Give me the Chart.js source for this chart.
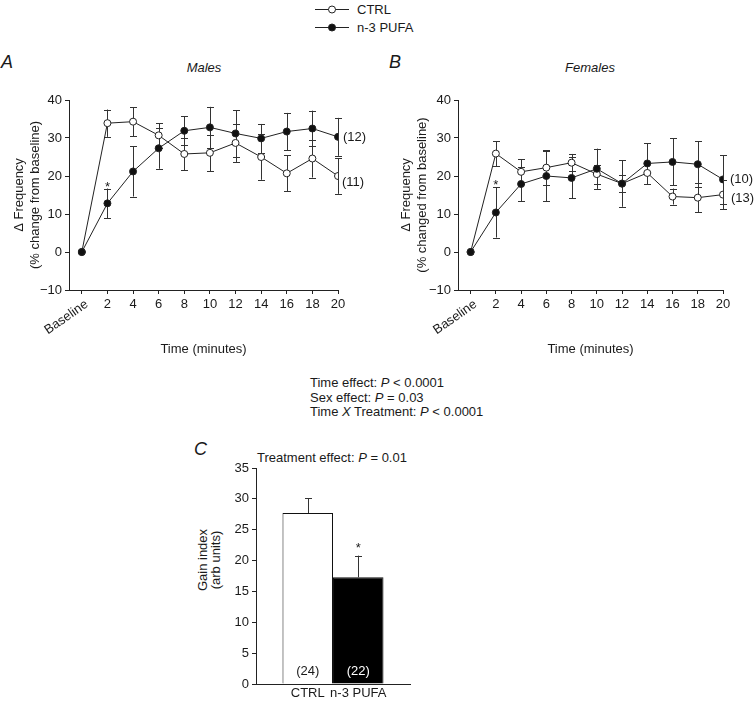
<!DOCTYPE html>
<html>
<head>
<meta charset="utf-8">
<script src="https://cdn.jsdelivr.net/npm/chart.js@4.4.0/dist/chart.umd.min.js"></script>
<style>
  body { margin: 0; background: #fff; font-family: "Liberation Sans", Arial, sans-serif; color: #1a1a1a; }
  #wrap { position: relative; width: 755px; height: 702px; overflow: hidden; }
  canvas { position: absolute; }
  .t { position: absolute; font-size: 13px; line-height: 1; white-space: nowrap; }
  .letter { position: absolute; font-size: 18px; font-style: italic; line-height: 1; }
  .ttl { position: absolute; font-size: 13px; font-style: italic; line-height: 1; transform: translateX(-50%); }
  .rot { position: absolute; font-size: 13px; line-height: 13px; text-align: center; white-space: nowrap;
         transform: translate(-50%, -50%) rotate(-90deg); }
</style>
</head>
<body>
<div id="wrap">
  <!-- shared legend -->
  <svg style="position:absolute;left:312px;top:0" width="42" height="36">
    <line x1="3" y1="9.5" x2="37" y2="9.5" stroke="#222" stroke-width="1"/>
    <circle cx="20" cy="9.5" r="3.5" fill="#fff" stroke="#222" stroke-width="1"/>
    <line x1="3" y1="27.5" x2="37" y2="27.5" stroke="#222" stroke-width="1"/>
    <circle cx="20" cy="27.5" r="3.5" fill="#111" stroke="#222" stroke-width="1"/>
  </svg>
  <div class="t" style="left:357px;top:3px">CTRL</div>
  <div class="t" style="left:357px;top:21px">n-3 PUFA</div>

  <div class="letter" style="left:1px;top:53px">A</div>
  <div class="ttl" style="left:204px;top:61px">Males</div>
  <div class="letter" style="left:389px;top:53px">B</div>
  <div class="ttl" style="left:590px;top:61px">Females</div>

  <canvas id="chartA" width="380" height="277" style="left:0;top:80px"></canvas>
  <canvas id="chartB" width="365" height="277" style="left:390px;top:80px"></canvas>

  <div class="t" style="left:310px;top:376px;line-height:14.5px">
    Time effect: <i>P</i> &lt; 0.0001<br>
    Sex effect: <i>P</i> = 0.03<br>
    Time <i>X</i> Treatment: <i>P</i> &lt; 0.0001
  </div>

  <div class="letter" style="left:194px;top:440px">C</div>
  <div class="t" style="left:257px;top:451px">Treatment effect: <i>P</i> = 0.01</div>
  <div class="rot" style="left:209px;top:560px">Gain index<br>(arb units)</div>
  <canvas id="chartC" width="250" height="262" style="left:180px;top:440px"></canvas>
</div>

<script>
// ---- data ----
var timeLabels = ['Baseline', '2', '4', '6', '8', '10', '12', '14', '16', '18', '20'];

// Males (panel A)
var malesCtrl     = [0, 33.9, 34.3, 30.7, 25.8, 26.1, 28.7, 25.0, 20.7, 24.6, 20.0];
var malesCtrlErr  = [0, 3.6, 3.8, 3.2, 4.3, 4.8, 5.0, 6.0, 4.7, 5.0, 4.7];
var malesPufa     = [0, 12.8, 21.2, 27.3, 31.9, 32.8, 31.2, 29.9, 31.7, 32.5, 30.3];
var malesPufaErr  = [0, 3.9, 6.6, 5.4, 3.8, 5.4, 6.1, 3.8, 4.9, 4.7, 5.0];
var malesN        = [11, 12];   // CTRL, n-3 PUFA
var malesSig      = [1];        // * on n-3 PUFA at 2 min

// Females (panel B)
var femalesCtrl    = [0, 25.9, 21.1, 22.2, 23.5, 20.5, 18.0, 20.8, 14.6, 14.3, 15.1];
var femalesCtrlErr = [0, 3.3, 3.3, 4.6, 2.3, 2.5, 2.3, 2.9, 2.1, 3.8, 3.9];
var femalesPufa    = [0, 10.4, 17.9, 20.0, 19.5, 21.9, 18.0, 23.3, 23.7, 23.1, 19.1];
var femalesPufaErr = [0, 6.6, 4.5, 6.7, 5.4, 5.3, 6.1, 5.3, 6.2, 6.0, 6.4];
var femalesN       = [13, 10];
var femalesSig     = [1];

// Gain index (panel C)
var gainGroups = ['CTRL', 'n-3 PUFA'];
var gainValues = [27.7, 17.3];
var gainErr    = [2.4, 3.5];
var gainN      = [24, 22];
var gainSig    = [false, true];

var yTicksFreq = [-10, 0, 10, 20, 30, 40];

Chart.defaults.font.family = '"Liberation Sans", Arial, sans-serif';
Chart.defaults.font.size = 13;
Chart.defaults.color = '#1a1a1a';
Chart.defaults.animation = false;

var ink = '#222';

function toPoints(arr) {
    return arr.map(function (v, i) { return { x: i, y: v }; });
}

function valueOf(d) {
    return (typeof d === 'object') ? d.y : d;
}

// vertical SEM bars with caps
var errorBars = {
    id: 'errorBars',
    beforeDatasetsDraw: function (chart) {
        var ctx = chart.ctx, ys = chart.scales.y;
        ctx.save();
        ctx.strokeStyle = '#333';
        ctx.lineWidth = 1;
        chart.data.datasets.forEach(function (ds, i) {
            if (!ds.errors) return;
            var meta = chart.getDatasetMeta(i);
            meta.data.forEach(function (el, j) {
                var e = ds.errors[j];
                if (!e) return;
                var v = valueOf(ds.data[j]);
                var top = ys.getPixelForValue(v + e);
                var bot = ds.upOnly ? ys.getPixelForValue(v) : ys.getPixelForValue(v - e);
                var x = Math.round(el.x) + 0.5;
                ctx.beginPath();
                ctx.moveTo(x, top); ctx.lineTo(x, bot);
                ctx.moveTo(x - 3.5, Math.round(top) + 0.5); ctx.lineTo(x + 3.5, Math.round(top) + 0.5);
                if (!ds.upOnly) {
                    ctx.moveTo(x - 3.5, Math.round(bot) + 0.5); ctx.lineTo(x + 3.5, Math.round(bot) + 0.5);
                }
                ctx.stroke();
            });
        });
        ctx.restore();
    }
};

// group sizes, significance stars, rotated "Baseline" label
var annotations = {
    id: 'annotations',
    afterDatasetsDraw: function (chart, args, opts) {
        var ctx = chart.ctx, ys = chart.scales.y;
        ctx.save();
        ctx.font = '13px "Liberation Sans", Arial, sans-serif';
        ctx.fillStyle = '#1a1a1a';
        chart.data.datasets.forEach(function (ds, i) {
            var meta = chart.getDatasetMeta(i);
            if (ds.n && ds.nAt === 'end') {
                var last = meta.data[meta.data.length - 1];
                ctx.textAlign = 'left';
                ctx.textBaseline = 'middle';
                ctx.fillText('(' + ds.n + ')', last.x + ds.nDx, last.y + ds.nDy);
            }
            (ds.sig || []).forEach(function (j) {
                var el = meta.data[j];
                var top = ys.getPixelForValue(valueOf(ds.data[j]) + ds.errors[j]);
                ctx.textAlign = 'center';
                ctx.textBaseline = 'alphabetic';
                ctx.fillText('*', el.x, top + opts.starDy);
            });
        });
        if (opts.baseline) {
            var xs = chart.scales.x;
            ctx.save();
            ctx.translate(xs.getPixelForValue(0) + 5, xs.top + 13);
            ctx.rotate(-35 * Math.PI / 180);
            ctx.textAlign = 'right';
            ctx.textBaseline = 'middle';
            ctx.fillText(opts.baseline, 0, 0);
            ctx.restore();
        }
        ctx.restore();
    }
};

function freqChart(id, ctrl, ctrlErr, pufa, pufaErr, nArr, sig, yTitle, titlePad, yWidth, padRight, nOffsets) {
    return new Chart(document.getElementById(id), {
        type: 'line',
        data: {
            datasets: [
                {
                    label: 'CTRL',
                    data: toPoints(ctrl),
                    errors: ctrlErr,
                    n: nArr[0], nAt: 'end', nDx: nOffsets[0][0], nDy: nOffsets[0][1],
                    borderColor: ink, borderWidth: 1,
                    pointRadius: 3.5, pointBorderWidth: 1,
                    pointBackgroundColor: '#fff', pointBorderColor: ink,
                    order: 1
                },
                {
                    label: 'n-3 PUFA',
                    data: toPoints(pufa),
                    errors: pufaErr,
                    sig: sig,
                    n: nArr[1], nAt: 'end', nDx: nOffsets[1][0], nDy: nOffsets[1][1],
                    borderColor: ink, borderWidth: 1,
                    pointRadius: 3.5, pointBorderWidth: 1,
                    pointBackgroundColor: '#111', pointBorderColor: ink,
                    order: 0
                }
            ]
        },
        options: {
            responsive: false,
            devicePixelRatio: 1,
            layout: { padding: { top: 20, right: padRight, bottom: 0, left: 0 } },
            plugins: {
                legend: { display: false },
                tooltip: { enabled: false },
                annotations: { starDy: 2, baseline: timeLabels[0] }
            },
            scales: {
                x: {
                    type: 'linear',
                    min: -0.5, max: timeLabels.length - 1,
                    afterBuildTicks: function (s) {
                        s.ticks = timeLabels.map(function (_, i) { return { value: i }; });
                    },
                    afterFit: function (s) { s.height = 67; },
                    ticks: {
                        autoSkip: false, maxRotation: 0, padding: 3,
                        callback: function (v) { return v === 0 ? '' : timeLabels[v]; }
                    },
                    grid: { drawOnChartArea: false, drawTicks: true, tickLength: 4, tickColor: ink },
                    border: { color: ink, width: 1 },
                    title: { display: true, text: 'Time (minutes)', padding: 0, font: { size: 13 } }
                },
                y: {
                    min: -10, max: 40,
                    afterBuildTicks: function (s) {
                        s.ticks = yTicksFreq.map(function (v) { return { value: v }; });
                    },
                    afterFit: function (s) { s.width = yWidth; },
                    ticks: {
                        padding: 3,
                        callback: function (v) { return v < 0 ? '\u2212' + (-v) : v; }
                    },
                    grid: { drawOnChartArea: false, drawTicks: true, tickLength: 4, tickColor: ink },
                    border: { color: ink, width: 1 },
                    title: { display: true, text: yTitle, padding: { top: titlePad }, font: { size: 13 } }
                }
            }
        },
        plugins: [errorBars, annotations]
    });
}

freqChart('chartA', malesCtrl, malesCtrlErr, malesPufa, malesPufaErr, malesN, malesSig,
    ['\u0394 Frequency', '(% change from baseline)'], 12, 69, 42, [[4, 6], [5, 1]]);
freqChart('chartB', femalesCtrl, femalesCtrlErr, femalesPufa, femalesPufaErr, femalesN, femalesSig,
    ['\u0394 Frequency', '(% changed from baseline)'], 9, 68, 32, [[8, 4], [7, 0]]);

// bar labels inside / under the bars
var barLabels = {
    id: 'barLabels',
    afterDatasetsDraw: function (chart) {
        var ctx = chart.ctx, ys = chart.scales.y, xs = chart.scales.x;
        ctx.save();
        ctx.font = '13px "Liberation Sans", Arial, sans-serif';
        ctx.textAlign = 'center';
        chart.data.datasets.forEach(function (ds, i) {
            var bar = chart.getDatasetMeta(i).data[0];
            ctx.textBaseline = 'middle';
            ctx.fillStyle = ds.nColor;
            ctx.fillText('(' + ds.n + ')', bar.x, ys.getPixelForValue(0) - 13);
            ctx.fillStyle = '#1a1a1a';
            ctx.fillText(ds.label, bar.x, xs.top + 9);
            if (ds.star) {
                ctx.textBaseline = 'alphabetic';
                ctx.fillText('*', bar.x, ys.getPixelForValue(ds.data[0] + ds.errors[0]) - 4);
            }
        });
        ctx.restore();
    }
};

new Chart(document.getElementById('chartC'), {
    type: 'bar',
    data: {
        labels: [''],
        datasets: gainGroups.map(function (g, i) {
            return {
                label: g,
                data: [gainValues[i]],
                errors: [gainErr[i]],
                upOnly: true,
                n: gainN[i],
                star: gainSig[i],
                nColor: i === 0 ? '#1a1a1a' : '#fff',
                backgroundColor: i === 0 ? '#fff' : '#000',
                borderColor: '#111',
                borderWidth: 1,
                borderSkipped: 'bottom',
                categoryPercentage: 0.656,
                barPercentage: 1
            };
        })
    },
    options: {
        responsive: false,
        devicePixelRatio: 1,
        layout: { padding: { top: 28, right: 20, bottom: 0, left: 0 } },
        plugins: { legend: { display: false }, tooltip: { enabled: false } },
        scales: {
            x: {
                afterFit: function (s) { s.height = 18; },
                ticks: { display: false },
                grid: { display: false },
                border: { color: ink, width: 1 }
            },
            y: {
                min: 0, max: 35,
                afterFit: function (s) { s.width = 76; },
                ticks: { stepSize: 5, padding: 3 },
                grid: { drawOnChartArea: false, drawTicks: true, tickLength: 4, tickColor: ink },
                border: { color: ink, width: 1 }
            }
        }
    },
    plugins: [errorBars, barLabels]
});
</script>
</body>
</html>
